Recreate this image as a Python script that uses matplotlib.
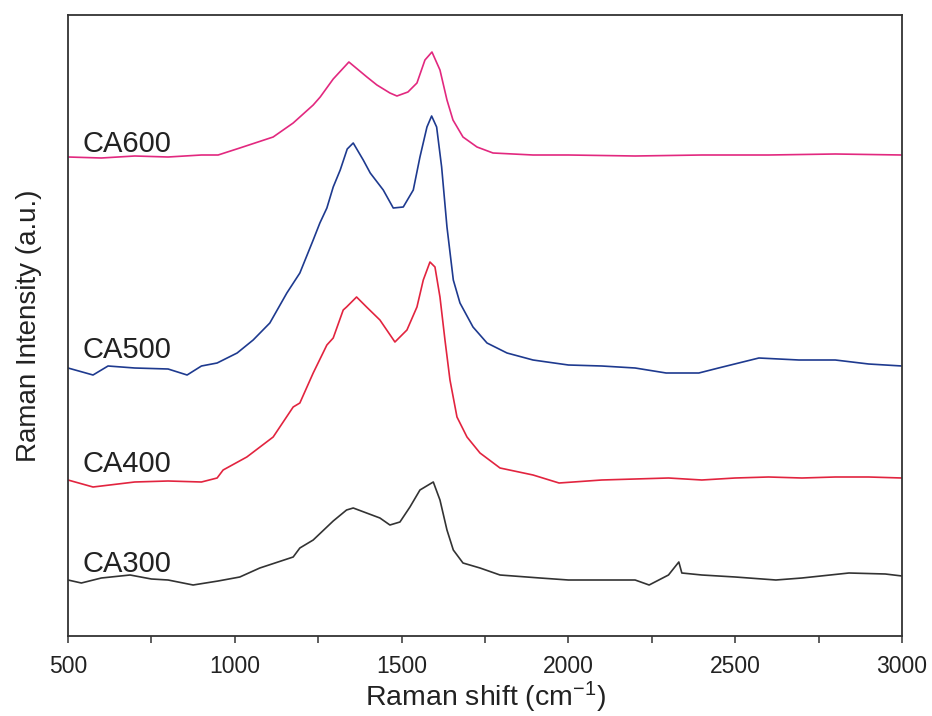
import matplotlib
matplotlib.use("Agg")
import matplotlib.pyplot as plt
from matplotlib.ticker import MultipleLocator

plt.rcParams['font.family'] = ['Liberation Sans', 'DejaVu Sans']
plt.rcParams['mathtext.fontset'] = 'custom'
plt.rcParams['mathtext.rm'] = 'Liberation Sans'
plt.rcParams['mathtext.it'] = 'Liberation Sans'

# ---- data (arbitrary intensity units, offset spectra) ----
ca600_x = [500, 600, 700, 800, 900, 950, 1015, 1115, 1175, 1195, 1235, 1256, 1295, 1342,
           1396, 1426, 1465, 1486, 1519, 1546, 1570, 1591, 1615, 1636, 1654, 1684, 1726,
           1774, 1894, 2000, 2200, 2400, 2600, 2800, 3000]
ca600_y = [479, 478, 480, 479, 481, 481, 488, 499, 513, 519, 531, 539, 557, 574,
           559, 551, 543, 540, 544, 553, 576, 584, 566, 536, 516, 499, 489,
           483, 481, 481, 480, 481, 481, 482, 481]

ca500_x = [500, 575, 620, 700, 800, 857, 900, 947, 1007, 1055, 1105, 1156, 1195, 1235,
           1255, 1276, 1295, 1316, 1337, 1355, 1385, 1406, 1445, 1475, 1505, 1535,
           1555, 1576, 1590, 1605, 1620, 1636, 1655, 1675, 1714, 1756, 1816, 1894, 1936,
           2000, 2100, 2200, 2293, 2391, 2450, 2571, 2691, 2800, 2900, 3000]
ca500_y = [268, 261, 270, 268, 267, 261, 270, 273, 283, 296, 313, 343, 363, 396,
           413, 428, 449, 466, 487, 493, 476, 463, 446, 428, 429, 446,
           479, 509, 520, 509, 469, 409, 356, 333, 309, 293, 283, 276, 274,
           271, 270, 268, 263, 263, 268, 278, 276, 276, 272, 270]

ca400_x = [500, 575, 700, 800, 900, 947, 965, 1036, 1115, 1175, 1195, 1235, 1276, 1295,
           1325, 1335, 1365, 1395, 1435, 1480, 1516, 1546, 1565, 1585, 1600, 1615, 1630,
           1645, 1666, 1696, 1735, 1795, 1894, 1972, 2100, 2200, 2300, 2400, 2500, 2600,
           2700, 2800, 2900, 3000]
ca400_y = [156, 149, 154, 155, 154, 158, 166, 179, 199, 229, 233, 263, 291, 298,
           326, 329, 339, 329, 316, 294, 306, 329, 356, 374, 369, 339, 296,
           256, 219, 199, 183, 168, 161, 153, 156, 157, 158, 156, 158, 159,
           158, 159, 159, 158]

ca300_x = [500, 540, 600, 686, 750, 800, 875, 950, 1015, 1075, 1175, 1195, 1235, 1295,
           1335, 1355, 1395, 1435, 1465, 1495, 1525, 1555, 1580, 1595, 1615, 1636, 1655,
           1684, 1735, 1795, 1915, 2000, 2092, 2200, 2242, 2300, 2331, 2340, 2400, 2500,
           2622, 2700, 2841, 2950, 3000]
ca300_y = [56, 53, 58, 61, 57, 56, 51, 55, 59, 68, 79, 88, 96, 115,
           126, 128, 123, 118, 111, 114, 129, 146, 151, 154, 136, 106, 86,
           73, 68, 61, 58, 56, 56, 56, 51, 61, 74, 63, 61, 59,
           56, 58, 63, 62, 60]

series_names = ['CA600', 'CA500', 'CA400', 'CA300']
label_y = [484, 278, 164, 64]
xticks = [500, 1000, 1500, 2000, 2500, 3000]

colors = ['#e2287f', '#1e3a8f', '#e2243f', '#333333']

fig = plt.figure(figsize=(9.32, 7.16), dpi=100)
ax = fig.add_axes([68/932, 80/716, 834/932, 621/716])

data = [(ca600_x, ca600_y), (ca500_x, ca500_y), (ca400_x, ca400_y), (ca300_x, ca300_y)]
for (xs, ys), c in zip(data, colors):
    ax.plot(xs, ys, color=c, lw=1.2)

for name, ly in zip(series_names, label_y):
    ax.text(543, ly, name, fontsize=21, color='#222222', ha='left', va='baseline')

ax.set_xlim(500, 3000)
ax.set_ylim(0, 621)
ax.set_xticks(xticks)
ax.set_xticklabels([str(t) for t in xticks])
ax.xaxis.set_minor_locator(MultipleLocator(250))
ax.set_yticks([])
ax.tick_params(axis='x', which='major', direction='out', length=5, width=1.1,
               labelsize=16.5, pad=9, colors='#333333', labelcolor='#222222')
ax.tick_params(axis='x', which='minor', direction='out', length=5, width=1.1, colors='#333333')
for s in ax.spines.values():
    s.set_linewidth(1.3)
    s.set_color('#333333')

ax.set_xlabel('Raman shift (cm$^{-1}$)', fontsize=20.5, color='#222222')
ax.xaxis.set_label_coords(0.5, -0.114)
ax.xaxis.label.set_va('baseline')
ax.set_ylabel('Raman Intensity (a.u.)', fontsize=20, color='#222222')
ax.yaxis.set_label_coords(-0.031, 0.5)

fig.savefig('out.png', dpi=100)
